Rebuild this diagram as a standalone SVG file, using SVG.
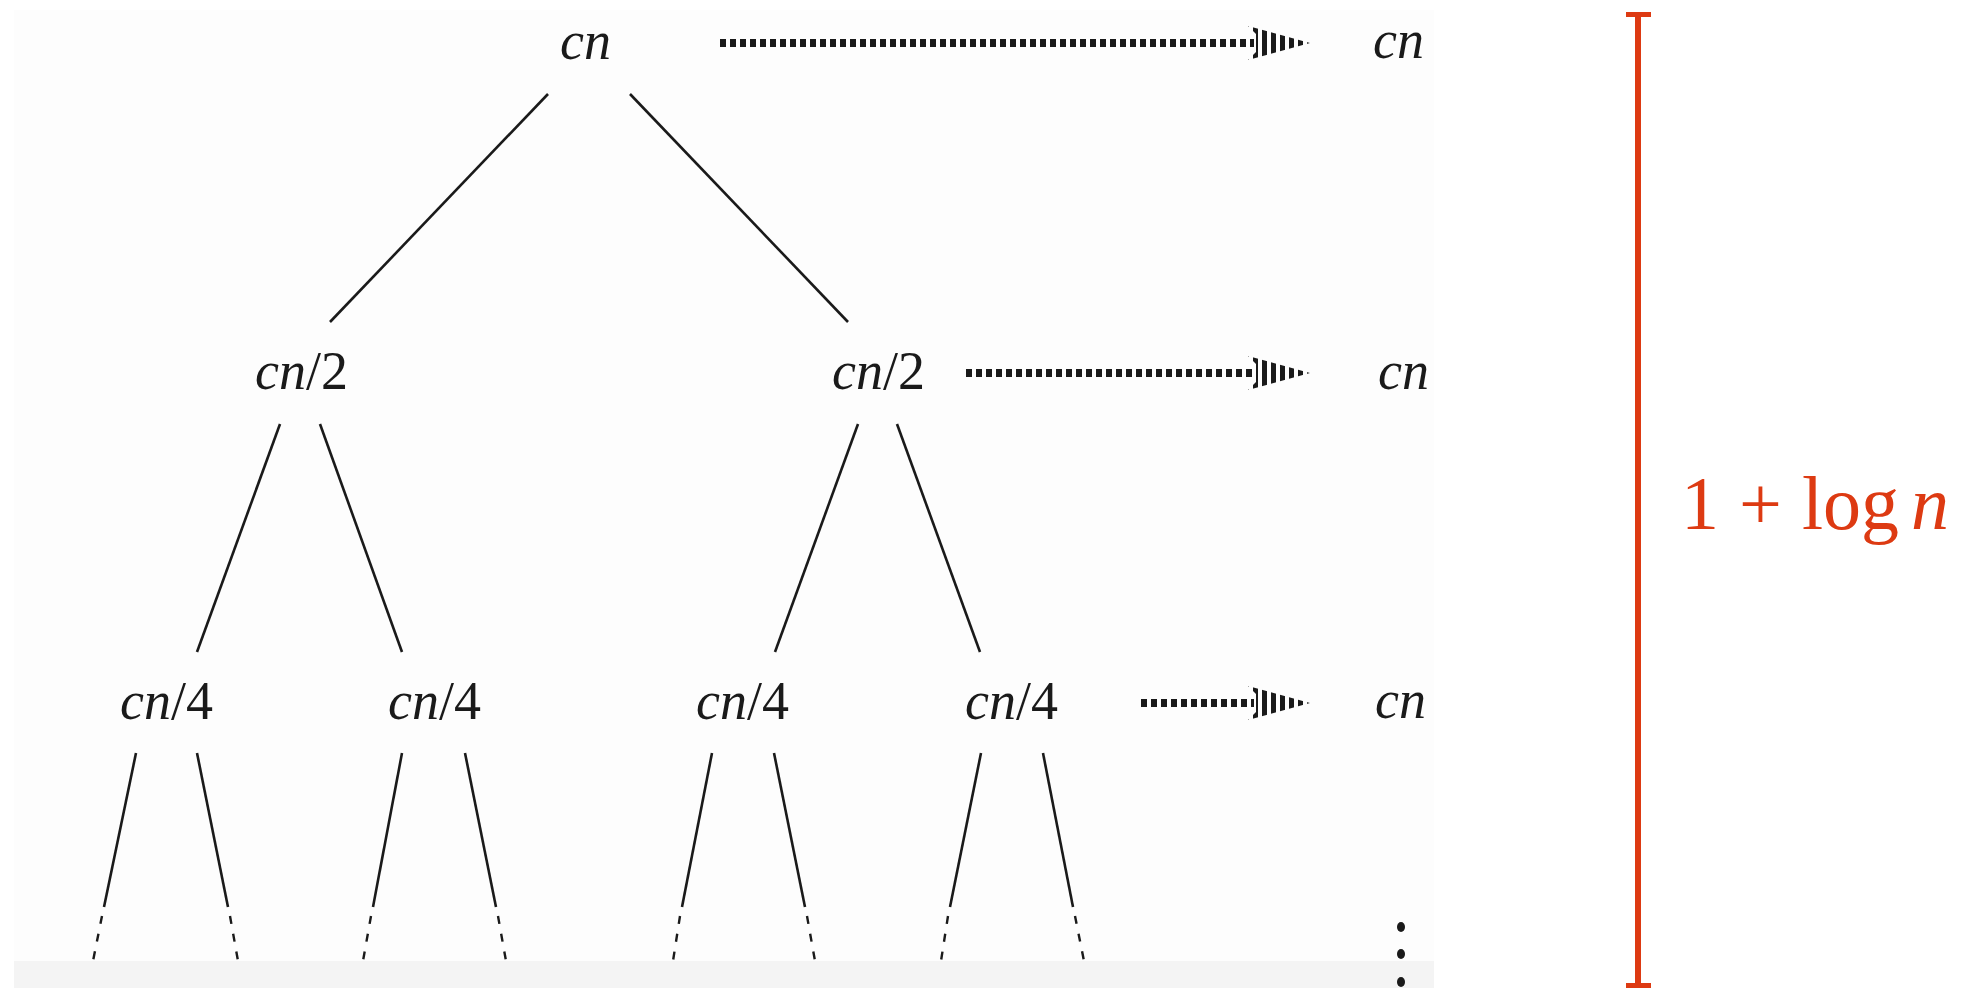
<svg xmlns="http://www.w3.org/2000/svg" width="1982" height="988" viewBox="0 0 1982 988">
<style>
.lbl{font-family:"Liberation Serif","DejaVu Serif",serif;font-size:54px;fill:#1a1a1a}
.it{font-style:italic}
.edge{stroke:#1a1a1a;stroke-width:2.6;fill:none}
.edged{stroke:#1a1a1a;stroke-width:2.4;fill:none;stroke-dasharray:8 10}
.flow{stroke:#1a1a1a;stroke-width:8;fill:none;stroke-dasharray:6 4}
.red{fill:#dd3a12;font-family:"Liberation Serif","DejaVu Serif",serif;font-size:76px}
</style>
<defs>
<pattern id="stripes" patternUnits="userSpaceOnUse" width="9" height="10" x="1256">
<rect x="0" y="0" width="5" height="10" fill="#1a1a1a"/>
</pattern>
<symbol id="head" overflow="visible">
<polygon points="0,-17 62,0 0,17 8,9 8,-9" fill="url(#stripes)"/>
</symbol>
</defs>
<rect x="0" y="0" width="1982" height="988" fill="#ffffff"/>
<rect x="14" y="10" width="1420" height="951" fill="#fdfdfd"/>
<rect x="14" y="961" width="1420" height="27" fill="#f4f4f4"/>

<g id="connectors">
<line class="edge" x1="548" y1="94" x2="330" y2="322"/>
<line class="edge" x1="630" y1="94" x2="848" y2="322"/>
<line class="edge" x1="280" y1="424" x2="197" y2="652"/>
<line class="edge" x1="320" y1="424" x2="402" y2="652"/>
<line class="edge" x1="858" y1="424" x2="775" y2="652"/>
<line class="edge" x1="897" y1="424" x2="980" y2="652"/>
<line class="edge" x1="136" y1="753" x2="104" y2="907"/>
<line class="edge" x1="197" y1="753" x2="228" y2="907"/>
<line class="edge" x1="402" y1="753" x2="373" y2="907"/>
<line class="edge" x1="465" y1="753" x2="496" y2="907"/>
<line class="edge" x1="712" y1="753" x2="682" y2="907"/>
<line class="edge" x1="774" y1="753" x2="805" y2="907"/>
<line class="edge" x1="981" y1="753" x2="950" y2="907"/>
<line class="edge" x1="1043" y1="753" x2="1073" y2="907"/>
<line class="edged" x1="102" y1="916" x2="93" y2="961"/>
<line class="edged" x1="230" y1="916" x2="238" y2="961"/>
<line class="edged" x1="371" y1="916" x2="363" y2="961"/>
<line class="edged" x1="498" y1="916" x2="506" y2="961"/>
<line class="edged" x1="680" y1="916" x2="673" y2="961"/>
<line class="edged" x1="807" y1="916" x2="815" y2="961"/>
<line class="edged" x1="948" y1="916" x2="941" y2="961"/>
<line class="edged" x1="1075" y1="916" x2="1084" y2="961"/>
<line class="flow" x1="720" y1="43" x2="1254" y2="43"/>
<use href="#head" x="1248" y="43"/>
<line class="flow" x1="966" y1="373" x2="1254" y2="373"/>
<use href="#head" x="1248" y="373"/>
<line class="flow" x1="1141" y1="703" x2="1254" y2="703"/>
<use href="#head" x="1248" y="703"/>
</g>

<g id="n-root"><text class="lbl it" x="560" y="59">cn</text></g>
<g id="n-l"><text class="lbl" x="255" y="389"><tspan class="it">cn</tspan>/2</text></g>
<g id="n-r"><text class="lbl" x="832" y="389"><tspan class="it">cn</tspan>/2</text></g>
<g id="n-ll"><text class="lbl" x="120" y="719"><tspan class="it">cn</tspan>/4</text></g>
<g id="n-lr"><text class="lbl" x="388" y="719"><tspan class="it">cn</tspan>/4</text></g>
<g id="n-rl"><text class="lbl" x="696" y="719"><tspan class="it">cn</tspan>/4</text></g>
<g id="n-rr"><text class="lbl" x="965" y="719"><tspan class="it">cn</tspan>/4</text></g>
<g id="sum-0"><text class="lbl it" x="1373" y="58">cn</text></g>
<g id="sum-1"><text class="lbl it" x="1378" y="389">cn</text></g>
<g id="sum-2"><text class="lbl it" x="1375" y="718">cn</text></g>
<g id="vdots" fill="#1a1a1a">
<ellipse cx="1401" cy="927" rx="4" ry="5"/>
<ellipse cx="1401" cy="954" rx="4" ry="5"/>
<ellipse cx="1401" cy="982" rx="4" ry="5"/>
</g>

<g id="height-bar">
<rect x="1635" y="14" width="6" height="972" fill="#dd3a12"/>
<rect x="1626" y="12" width="25" height="5" fill="#dd3a12"/>
<rect x="1626" y="983" width="25" height="5" fill="#dd3a12"/>
<text class="red" y="529"><tspan x="1681">1</tspan><tspan x="1739">+</tspan><tspan x="1802">log</tspan><tspan x="1911" font-style="italic">n</tspan></text>
</g>
</svg>
